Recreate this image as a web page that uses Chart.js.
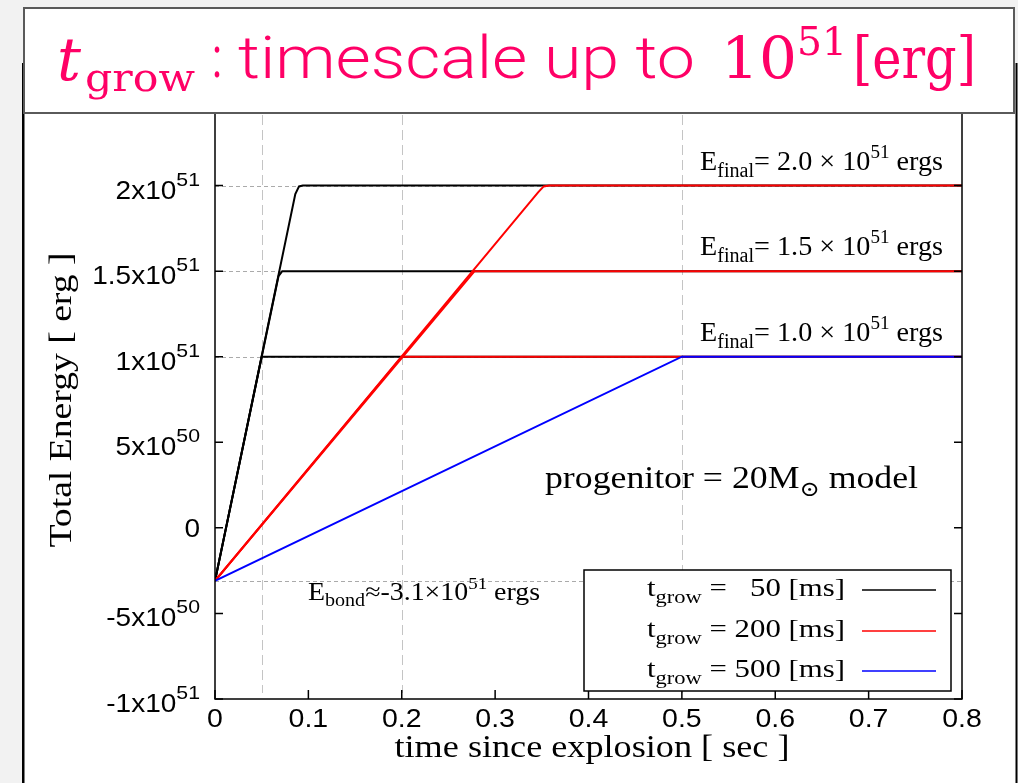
<!DOCTYPE html>
<html>
<head>
<meta charset="utf-8">
<script src="https://cdn.jsdelivr.net/npm/chart.js@4"></script>
<style>
  html, body { margin: 0; padding: 0; background: #f2f2f2; overflow: hidden; }
  canvas { display: block; }
</style>
</head>
<body>
<canvas id="c" width="1018" height="783"></canvas>
<script>
// values in units of 1e51 erg, time in sec
const xTicks = [0, 0.1, 0.2, 0.3, 0.4, 0.5, 0.6, 0.7, 0.8];
const xTickLabels = ['0', '0.1', '0.2', '0.3', '0.4', '0.5', '0.6', '0.7', '0.8'];
const yTicks = [-1, -0.5, 0, 0.5, 1, 1.5, 2, 2.5];
const yTickBase = ['-1x10', '-5x10', '0', '5x10', '1x10', '1.5x10', '2x10', '2.5x10'];
const yTickExp = ['51', '50', '', '50', '51', '51', '51', '51'];

const refTimes = [0.05, 0.2, 0.5];
const refEnergies = [1.0, 1.5, 2.0, -0.31];
const eFinal = [1.0, 1.5, 2.0];
const eBond = -0.31;
const tGrow = [50, 200, 500];

// t_grow = 50 ms
const black10 = [[0, -0.31], [0.050, 1.0], [0.8, 1.0]];
const black15 = [[0, -0.31], [0.068, 1.47], [0.072, 1.5], [0.8, 1.5]];
const black20 = [[0, -0.31], [0.086, 1.95], [0.090, 1.995], [0.094, 2.0], [0.8, 2.0]];
// t_grow = 200 ms
const red10 = [[0, -0.31], [0.200, 1.0], [0.8, 1.0]];
const red15 = [[0, -0.31], [0.278, 1.5], [0.8, 1.5]];
const red20 = [[0, -0.31], [0.346, 1.96], [0.352, 1.995], [0.358, 2.0], [0.8, 2.0]];
// t_grow = 500 ms
const blue10 = [[0, -0.31], [0.500, 1.0], [0.8, 1.0]];

const SERIF = "'Liberation Serif', 'DejaVu Serif', serif";
const TSERIF = "'DejaVu Serif', 'Liberation Serif', serif";
const SANS = "'Liberation Sans', Arial, sans-serif";
const PINK = '#ff0066';

function pts(a) { return a.map(p => ({ x: p[0], y: p[1] })); }

function line(data, color, order) {
  return { data: pts(data), showLine: true, borderColor: color, backgroundColor: color,
           borderWidth: 2, pointRadius: 0, tension: 0, order: order };
}

// parts: [text, size, dy, style]
function measureRich(ctx, parts, fam) {
  return parts.map(p => { ctx.font = `${p[3] || ''} ${p[1]}px ${fam}`; return ctx.measureText(p[0]).width; });
}
function rich(ctx, parts, x, y, opt) {
  const fam = opt.family || SERIF;
  const ws = measureRich(ctx, parts, fam);
  const total = ws.reduce((a, b) => a + b, 0);
  const sx = opt.width ? opt.width / total : (opt.sx || 1);
  const w = total * sx;
  const x0 = opt.align === 'right' ? x - w : opt.align === 'center' ? x - w / 2 : x;
  ctx.save();
  ctx.translate(x0, y);
  ctx.scale(sx, 1);
  ctx.fillStyle = opt.color || '#000';
  ctx.textAlign = 'left';
  ctx.textBaseline = opt.baseline || 'alphabetic';
  let cx = 0;
  parts.forEach((p, i) => { ctx.font = `${p[3] || ''} ${p[1]}px ${fam}`; ctx.fillText(p[0], cx, p[2]); cx += ws[i]; });
  ctx.restore();
  return total;
}

const deco = {
  id: 'deco',
  beforeDraw(chart) {
    const ctx = chart.ctx;
    ctx.save();
    ctx.fillStyle = '#f2f2f2'; ctx.fillRect(0, 0, 1018, 783);
    ctx.fillStyle = '#fff'; ctx.fillRect(23, 63, 994, 720);
    ctx.fillStyle = '#000'; ctx.fillRect(22, 63, 2.5, 720); ctx.fillRect(1015.5, 63, 2, 720);
    ctx.restore();
  },
  beforeDatasetsDraw(chart) {
    const { ctx, chartArea: ca, scales: { x, y } } = chart;
    ctx.save();
    ctx.lineWidth = 1;
    ctx.strokeStyle = '#c4c4c4';
    ctx.setLineDash([10, 5]);
    refTimes.forEach(t => {
      const px = Math.round(x.getPixelForValue(t)) + 0.5;
      ctx.beginPath(); ctx.moveTo(px, ca.top); ctx.lineTo(px, ca.bottom - 6); ctx.stroke();
    });
    ctx.strokeStyle = '#aaaaaa';
    ctx.setLineDash([4, 3]);
    refEnergies.forEach(e => {
      const py = Math.round(y.getPixelForValue(e)) + 0.5;
      ctx.beginPath(); ctx.moveTo(ca.left, py); ctx.lineTo(ca.right, py); ctx.stroke();
    });
    ctx.restore();
  },
  afterDatasetsDraw(chart) {
    const { ctx, chartArea: ca, scales: { x, y } } = chart;
    ctx.save();
    // frame + inward ticks
    ctx.strokeStyle = '#000';
    ctx.lineWidth = 1.5;
    ctx.strokeRect(ca.left, ca.top, ca.right - ca.left, ca.bottom - ca.top);
    ctx.beginPath();
    yTicks.forEach(v => {
      const py = y.getPixelForValue(v);
      ctx.moveTo(ca.left, py); ctx.lineTo(ca.left + 8, py);
      ctx.moveTo(ca.right, py); ctx.lineTo(ca.right - 8, py);
    });
    xTicks.forEach(v => {
      const px = x.getPixelForValue(v);
      ctx.moveTo(px, ca.bottom); ctx.lineTo(px, ca.bottom - 9);
      ctx.moveTo(px, ca.top); ctx.lineTo(px, ca.top + 9);
    });
    ctx.stroke();

    // tick labels
    yTicks.forEach((v, i) => {
      const py = y.getPixelForValue(v);
      if (yTickExp[i]) {
        rich(ctx, [[yTickBase[i], 25, 0], [yTickExp[i], 19, -13]], ca.left - 15, py + 13, { family: SANS, sx: 1.12, align: 'right' });
      } else {
        rich(ctx, [[yTickBase[i], 25, 0]], ca.left - 15, py + 9, { family: SANS, sx: 1.12, align: 'right' });
      }
    });
    xTicks.forEach((v, i) => {
      rich(ctx, [[xTickLabels[i], 25, 0]], x.getPixelForValue(v), ca.bottom + 28, { family: SANS, sx: 1.14, align: 'center' });
    });

    // axis titles
    rich(ctx, [['time since explosion [ sec ]', 31, 0]], 592, 757, { width: 395, align: 'center' });
    ctx.save();
    ctx.translate(63, 400);
    ctx.rotate(-Math.PI / 2);
    rich(ctx, [['Total Energy [ erg ]', 31, 0]], 0, 0, { width: 295, align: 'center', baseline: 'middle' });
    ctx.restore();

    // annotations
    eFinal.forEach(e => {
      const py = y.getPixelForValue(e) - 16;
      rich(ctx, [['E', 28, 0], ['final', 20, 7], ['= ' + e.toFixed(1) + ' \u00d7 10', 28, 0], ['51', 19, -12], [' ergs', 28, 0]],
        700, py, { width: 243 });
    });
    rich(ctx, [['E', 25, 0], ['bond', 18, 6], ['\u2248' + (eBond * 10).toFixed(1) + '\u00d710', 25, 0], ['51', 17, -11], [' ergs', 25, 0]],
      308, y.getPixelForValue(eBond) + 19, { width: 232 });
    rich(ctx, [['progenitor = 20M', 31, 0], ['\u2299', 21, 8], [' model', 31, 0]], 545, 488, { width: 373 });

    // legend
    const lx = ca.right - 378, ly = ca.bottom - 129;
    ctx.fillStyle = '#fff';
    ctx.fillRect(lx, ly, 367, 121);
    ctx.lineWidth = 1.5;
    ctx.strokeStyle = '#000';
    ctx.strokeRect(lx, ly, 367, 121);
    const colors = ['#000000', '#ff0000', '#0000ff'];
    const rowY = [20, 61, 101];
    const rowParts = tGrow.map(t => [['t', 26, 0], ['grow', 19, 7], [' = ' + (t < 100 ? '\u2007' : '') + t + ' [ms]', 26, 0]]);
    const natural = measureRich(ctx, rowParts[1], SERIF).reduce((a, b) => a + b, 0);
    const lsx = 198 / natural;
    tGrow.forEach((t, i) => {
      const cy = ly + rowY[i];
      rich(ctx, rowParts[i], lx + 261, cy + 6, { sx: lsx, align: 'right' });
      ctx.strokeStyle = colors[i];
      ctx.lineWidth = 1.5;
      ctx.beginPath(); ctx.moveTo(lx + 278, cy); ctx.lineTo(lx + 352, cy); ctx.stroke();
    });
    ctx.restore();
  },
  afterDraw(chart) {
    const ctx = chart.ctx;
    ctx.save();
    ctx.fillStyle = '#fff';
    ctx.fillRect(24, 8, 990, 105);
    ctx.strokeStyle = '#5a5a5a';
    ctx.lineWidth = 2;
    ctx.strokeRect(24, 8, 990, 105);
    const o = { color: PINK, family: TSERIF };
    rich(ctx, [['t', 60, 0, 'italic']], 57, 80, Object.assign({ width: 24 }, o));
    rich(ctx, [['grow', 40, 0]], 85, 91, Object.assign({ width: 110 }, o));
    rich(ctx, [[':', 58, 0]], 212, 77, Object.assign({}, o, { family: 'Roboto, sans-serif', width: 10 }));
    rich(ctx, [['timescale up to', 60, 0, '300']], 238, 78, Object.assign({}, o, { family: 'Roboto, sans-serif', width: 457 }));
    rich(ctx, [['10', 58, 0]], 721, 78, Object.assign({ width: 76 }, o));
    rich(ctx, [['51', 40, 0]], 797, 55, Object.assign({ width: 50 }, o));
    rich(ctx, [['[erg]', 58, 0]], 853, 78, Object.assign({ width: 123 }, o));
    ctx.restore();
  }
};

new Chart(document.getElementById('c'), {
  type: 'scatter',
  data: {
    datasets: [
      line(blue10, '#0000ff', 0),
      line(red10, '#ff0000', 1), line(red15, '#ff0000', 1), line(red20, '#ff0000', 1),
      line(black10, '#000000', 2), line(black15, '#000000', 2), line(black20, '#000000', 2)
    ]
  },
  options: {
    responsive: false,
    animation: false,
    devicePixelRatio: 1,
    layout: { padding: { left: 215, right: 56, top: 100, bottom: 84 } },
    plugins: { legend: { display: false }, tooltip: { enabled: false } },
    scales: {
      x: { type: 'linear', min: 0, max: 0.8, grid: { display: false }, border: { display: false },
           ticks: { display: false }, afterFit: s => { s.height = 0; } },
      y: { type: 'linear', min: -1, max: 2.5, grid: { display: false }, border: { display: false },
           ticks: { display: false }, afterFit: s => { s.width = 0; } }
    }
  },
  plugins: [deco]
});
</script>
</body>
</html>
